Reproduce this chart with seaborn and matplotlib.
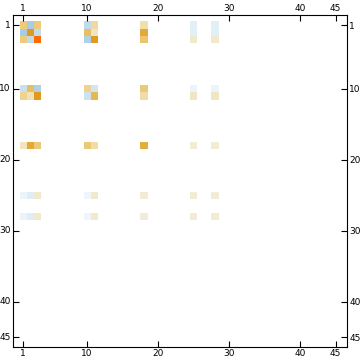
import numpy as np
import pandas as pd
import matplotlib
matplotlib.use("Agg")
import matplotlib.pyplot as plt
from matplotlib.colors import LinearSegmentedColormap
import seaborn as sns

n = 45
nonzero_idx = [1, 2, 3, 10, 11, 18, 25, 28]
row_1 = [0.40, -0.50, 0.40, -0.35, 0.30, 0.25, -0.15, -0.15]
row_2 = [-0.50, 0.75, -0.35, 0.50, 0.20, 0.65, -0.15, -0.15]
row_3 = [0.40, -0.35, 1.00, -0.45, 0.75, 0.45, 0.15, 0.15]
row_10 = [-0.30, 0.50, -0.45, 0.35, -0.25, 0.42, -0.10, -0.10]
row_11 = [0.35, 0.22, 0.75, -0.28, 0.55, 0.28, 0.18, 0.18]
row_18 = [0.20, 0.65, 0.42, 0.42, 0.28, 0.62, 0.12, 0.12]
row_25 = [-0.10, -0.17, 0.15, -0.08, 0.15, 0.12, 0.12, 0.12]
row_28 = [-0.10, -0.17, 0.15, -0.08, 0.15, 0.12, 0.12, 0.12]
tick_labels = [1, 10, 20, 30, 40, 45]

rows = [row_1, row_2, row_3, row_10, row_11, row_18, row_25, row_28]
M = np.zeros((n, n))
for r, vals in zip(nonzero_idx, rows):
    for c, v in zip(nonzero_idx, vals):
        M[r - 1, c - 1] = v
df = pd.DataFrame(M, index=range(1, n + 1), columns=range(1, n + 1))

cmap = LinearSegmentedColormap.from_list("mm", [
    (0.0, "#5a8fc0"), (0.25, "#a8cce2"), (0.45, "#eaf4fa"), (0.5, "#ffffff"),
    (0.56, "#f2ecd6"), (0.625, "#f0e0b0"), (0.7, "#eccb80"), (0.775, "#e8b850"),
    (0.875, "#e09a20"), (1.0, "#ff6a00")])

fig = plt.figure(figsize=(3.6, 3.63), dpi=100)
ax = fig.add_axes([13 / 360, 16 / 363, 334 / 360, 332 / 363])
sns.heatmap(df, ax=ax, cmap=cmap, vmin=-1, vmax=1, cbar=False,
            mask=(M == 0), linewidths=0, square=False)

ax.set_xlim(-0.95, 46.09)
ax.set_ylim(45.87, -0.91)
pos = [t - 0.5 for t in tick_labels]
ax.set_xticks(pos)
ax.set_xticklabels([str(t) for t in tick_labels], rotation=0)
ax.set_yticks(pos)
ax.set_yticklabels([str(t) for t in tick_labels], rotation=0)
ax.set_xlabel("")
ax.set_ylabel("")
ax.tick_params(axis="both", which="both", direction="in", length=4, width=0.8,
               labelsize=6.5, colors="black", pad=1.5,
               top=True, bottom=True, left=True, right=True,
               labeltop=True, labelbottom=True, labelleft=True, labelright=True)
for lab in ax.get_xticklabels():
    lab.set_rotation(0)
for s in ax.spines.values():
    s.set_visible(True)
    s.set_color("black")
    s.set_linewidth(0.8)

fig.savefig("out.png", dpi=100)
